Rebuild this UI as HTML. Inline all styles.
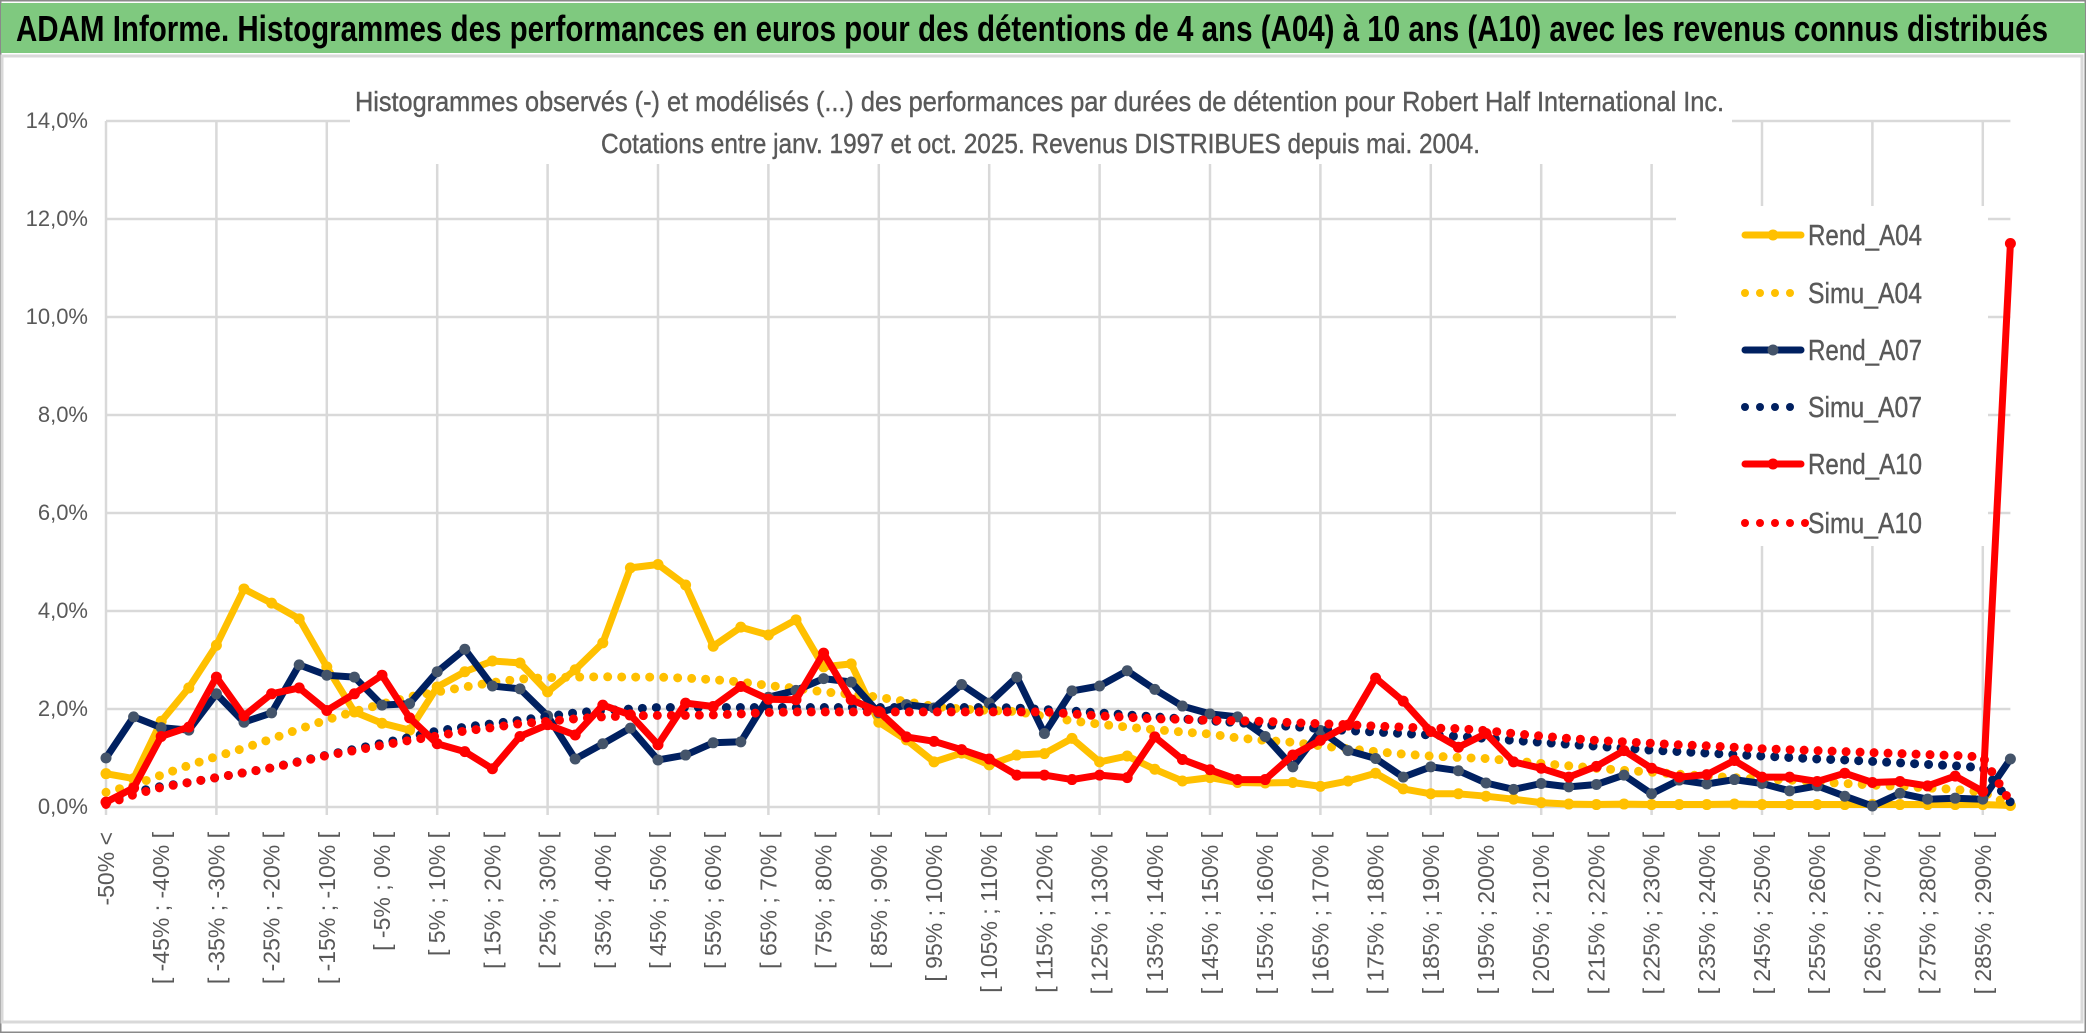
<!DOCTYPE html>
<html><head><meta charset="utf-8"><style>
html,body{margin:0;padding:0;background:#fff;}
svg{display:block;}
</style></head><body>
<svg id="chart" width="2086" height="1033" viewBox="0 0 2086 1033" xmlns="http://www.w3.org/2000/svg">
<rect x="0" y="0" width="2086" height="1033" fill="#fff"/>
<rect x="0.5" y="0.5" width="2085" height="1032" fill="none" stroke="#8a8a8a" stroke-width="2"/>
<rect x="1" y="3" width="2084" height="50" fill="#7fc97f"/>
<text x="16" y="41" font-family="'Liberation Sans Narrow','Liberation Sans',sans-serif" font-weight="bold" font-size="36" fill="#000" textLength="2032" lengthAdjust="spacingAndGlyphs">ADAM Informe. Histogrammes des performances en euros pour des détentions de 4 ans (A04) à 10 ans (A10) avec les revenus connus distribués</text>
<rect x="2" y="56" width="2080" height="966" fill="none" stroke="#d9d9d9" stroke-width="3"/>
<g id="grid"></g>
<g id="yaxis"></g>
<g id="xaxis"></g>
<rect x="350" y="70" width="1382" height="94" fill="#fff"/>
<text x="355" y="111" font-family="'Liberation Sans Narrow','Liberation Sans',sans-serif" font-size="28" fill="#595959" textLength="1369" lengthAdjust="spacingAndGlyphs" stroke="#595959" stroke-width="0.4">Histogrammes observés (-) et modélisés (...) des performances par durées de détention pour Robert Half International Inc.</text>
<text x="601" y="153" font-family="'Liberation Sans Narrow','Liberation Sans',sans-serif" font-size="28" fill="#595959" textLength="879" lengthAdjust="spacingAndGlyphs" stroke="#595959" stroke-width="0.4">Cotations entre janv. 1997 et oct. 2025. Revenus DISTRIBUES depuis mai. 2004.</text>
<rect x="1676" y="206" width="312" height="340" fill="#fff"/>
<g id="series"></g>
<g id="legend"></g>
</svg>
<script>
const rendA04 = [0.68,0.58,1.75,2.43,3.3,4.45,4.16,3.84,2.86,1.94,1.71,1.57,2.45,2.76,2.98,2.94,2.35,2.8,3.35,4.88,4.95,4.53,3.28,3.67,3.51,3.82,2.86,2.92,1.73,1.37,0.92,1.1,0.86,1.06,1.09,1.4,0.92,1.04,0.77,0.53,0.6,0.5,0.49,0.5,0.42,0.53,0.69,0.37,0.27,0.27,0.22,0.16,0.09,0.06,0.05,0.06,0.05,0.05,0.05,0.06,0.05,0.05,0.05,0.05,0.05,0.05,0.05,0.05,0.05,0.03];
const simuA04 = [0.3,0.45,0.65,0.85,1.03,1.2,1.39,1.59,1.78,1.95,2.1,2.25,2.35,2.45,2.54,2.61,2.64,2.65,2.66,2.65,2.65,2.63,2.6,2.55,2.48,2.42,2.35,2.3,2.24,2.15,2.05,2.0,1.97,1.95,1.85,1.76,1.69,1.63,1.58,1.53,1.49,1.41,1.36,1.32,1.25,1.19,1.13,1.08,1.04,1.01,0.99,0.94,0.89,0.84,0.79,0.75,0.71,0.67,0.63,0.6,0.57,0.55,0.51,0.48,0.45,0.42,0.39,0.36,0.3,0.05];
const rendA07 = [1.0,1.84,1.62,1.57,2.31,1.73,1.92,2.9,2.69,2.65,2.08,2.11,2.76,3.22,2.47,2.41,1.86,0.98,1.29,1.61,0.96,1.06,1.31,1.33,2.24,2.38,2.62,2.55,1.92,2.09,2.02,2.5,2.12,2.65,1.5,2.37,2.47,2.78,2.4,2.06,1.9,1.84,1.44,0.82,1.56,1.15,0.99,0.61,0.82,0.74,0.49,0.36,0.48,0.41,0.46,0.65,0.27,0.55,0.47,0.56,0.48,0.33,0.43,0.22,0.02,0.28,0.16,0.18,0.16,0.98];
const simuA07 = [0.08,0.3,0.42,0.5,0.6,0.7,0.8,0.93,1.06,1.18,1.3,1.42,1.55,1.63,1.7,1.77,1.85,1.92,1.97,2.0,2.03,2.03,2.03,2.03,2.03,2.03,2.03,2.03,2.03,2.03,2.03,2.03,2.03,2.02,1.99,1.96,1.92,1.88,1.84,1.8,1.76,1.72,1.68,1.64,1.6,1.56,1.53,1.5,1.47,1.44,1.4,1.36,1.32,1.28,1.24,1.2,1.16,1.13,1.1,1.07,1.04,1.01,0.98,0.96,0.93,0.9,0.87,0.84,0.8,0.1];
const rendA10 = [0.1,0.39,1.44,1.63,2.65,1.86,2.31,2.43,1.97,2.31,2.69,1.82,1.29,1.13,0.78,1.44,1.68,1.47,2.08,1.88,1.27,2.12,2.05,2.46,2.2,2.19,3.14,2.19,1.95,1.43,1.34,1.17,0.98,0.65,0.65,0.56,0.65,0.6,1.43,0.97,0.76,0.56,0.56,1.06,1.36,1.67,2.63,2.16,1.54,1.22,1.5,0.92,0.79,0.61,0.83,1.15,0.79,0.61,0.66,0.95,0.61,0.61,0.52,0.69,0.5,0.52,0.43,0.63,0.32,11.5];
const simuA10 = [0.05,0.25,0.4,0.5,0.6,0.7,0.8,0.92,1.05,1.15,1.26,1.36,1.45,1.55,1.62,1.7,1.75,1.8,1.84,1.86,1.87,1.87,1.88,1.9,1.93,1.94,1.94,1.94,1.94,1.94,1.94,1.94,1.94,1.94,1.94,1.9,1.86,1.83,1.8,1.79,1.77,1.76,1.75,1.72,1.7,1.68,1.65,1.63,1.61,1.6,1.56,1.5,1.45,1.4,1.36,1.33,1.3,1.27,1.25,1.22,1.19,1.17,1.15,1.13,1.11,1.09,1.07,1.05,1.02,0.1];
const yTicks = [0,2,4,6,8,10,12,14];
const yTickLabels = ["0,0%","2,0%","4,0%","6,0%","8,0%","10,0%","12,0%","14,0%"];
const categories = ["-50% <"];
for (let k = 1; k < 70; k++) { const a = -50 + 5 * (k - 1); categories.push("[ " + a + "% ; " + (a + 5) + "% ["); }
const seriesNames = ["Rend_A04","Simu_A04","Rend_A07","Simu_A07","Rend_A10","Simu_A10"];

const NS = "http://www.w3.org/2000/svg";
const X0 = 106, STEP = 27.6, Y0 = 807, YPER = 49;
function xScale(i){ return X0 + i * STEP; }
function yScale(v){ return Y0 - v * YPER; }
function mk(tag, attrs, parent){ const e = document.createElementNS(NS, tag); for (const k in attrs) e.setAttribute(k, attrs[k]); parent.appendChild(e); return e; }

const grid = document.getElementById('grid');
yTicks.forEach(function(t){
  const l = mk('line', {x1: X0, x2: xScale(categories.length - 1), y1: yScale(t), y2: yScale(t), stroke: '#d9d9d9', 'stroke-width': 2.5}, grid);
  
  
});
for (let i = 0; i < categories.length; i += 4) {
  const l = mk('line', {x1: xScale(i), x2: xScale(i), y1: yScale(14), y2: Y0 + 8, stroke: '#d9d9d9', 'stroke-width': 2.5}, grid);
  
  
}
const yaxis = document.getElementById('yaxis');
yTicks.forEach(function(t, k){
  const tx = mk('text', {x: 88, y: yScale(t) + 7, 'text-anchor': 'end', 'font-family': "'Liberation Sans Narrow','Liberation Sans',sans-serif", 'font-size': 22, fill: '#595959'}, yaxis);
  tx.textContent = yTickLabels[k];
  
  
});
const xaxis = document.getElementById('xaxis');
for (let i = 0; i < categories.length; i += 2) {
  const x = xScale(i) + 8, y = 832;
  const tx = mk('text', {x: x, y: y, transform: 'rotate(-90 ' + x + ' ' + y + ')', 'text-anchor': 'end', 'font-family': "'Liberation Sans',sans-serif", 'font-size': 23, fill: '#595959'}, xaxis);
  tx.textContent = categories[i];
  
  
}

const seriesLayer = document.getElementById('series');
function pts(arr){ return arr.map(function(v, i){ return xScale(i).toFixed(1) + ',' + yScale(v).toFixed(1); }).join(' '); }
function solid(arr, color, marker, name){
  const g = mk('g', {}, seriesLayer);
  
  
  const pl = mk('polyline', {points: pts(arr), fill: 'none', stroke: color, 'stroke-width': 7, 'stroke-linejoin': 'round', 'stroke-linecap': 'round'}, g);
  
  
  arr.forEach(function(v, i){
    const c = mk('circle', {cx: xScale(i), cy: yScale(v), r: 5.5, fill: marker}, g);
    
    
  });
}
function dotted(arr, color, name){
  const pl = mk('polyline', {points: pts(arr), fill: 'none', stroke: color, 'stroke-width': 9, 'stroke-linecap': 'round', 'stroke-linejoin': 'round', 'stroke-dasharray': '0 14'}, seriesLayer);
  
  
}
solid(rendA04, '#ffc000', '#ffc000', 'rend-a04');
dotted(simuA04, '#ffc000', 'simu-a04');
solid(rendA07, '#002060', '#44546a', 'rend-a07');
dotted(simuA07, '#002060', 'simu-a07');
solid(rendA10, '#ff0000', '#ff0000', 'rend-a10');
dotted(simuA10, '#ff0000', 'simu-a10');

const legend = document.getElementById('legend');
const legendY = [235, 293, 350, 407, 464, 523];
const legendColors = ['#ffc000','#ffc000','#002060','#002060','#ff0000','#ff0000'];
const legendMarkers = ['#ffc000',null,'#44546a',null,'#ff0000',null];
seriesNames.forEach(function(n, k){
  const g = mk('g', {}, legend);
  
  
  const y = legendY[k];
  if (legendMarkers[k]) {
    mk('line', {x1: 1745, x2: 1801, y1: y, y2: y, stroke: legendColors[k], 'stroke-width': 7, 'stroke-linecap': 'round'}, g);
    mk('circle', {cx: 1773, cy: y, r: 5.5, fill: legendMarkers[k]}, g);
  } else {
    for (let d = 0; d < (k === 5 ? 5 : 4); d++) mk('circle', {cx: 1745 + d * 15, cy: y, r: 4, fill: legendColors[k]}, g);
  }
  const tx = mk('text', {x: 1808, y: y + 10, 'font-family': "'Liberation Sans Narrow','Liberation Sans',sans-serif", 'font-size': 29, fill: '#595959', stroke: '#595959', 'stroke-width': 0.4, textLength: 114, lengthAdjust: 'spacingAndGlyphs'}, g);
  tx.textContent = n;
  
  
});
</script>
</body></html>
